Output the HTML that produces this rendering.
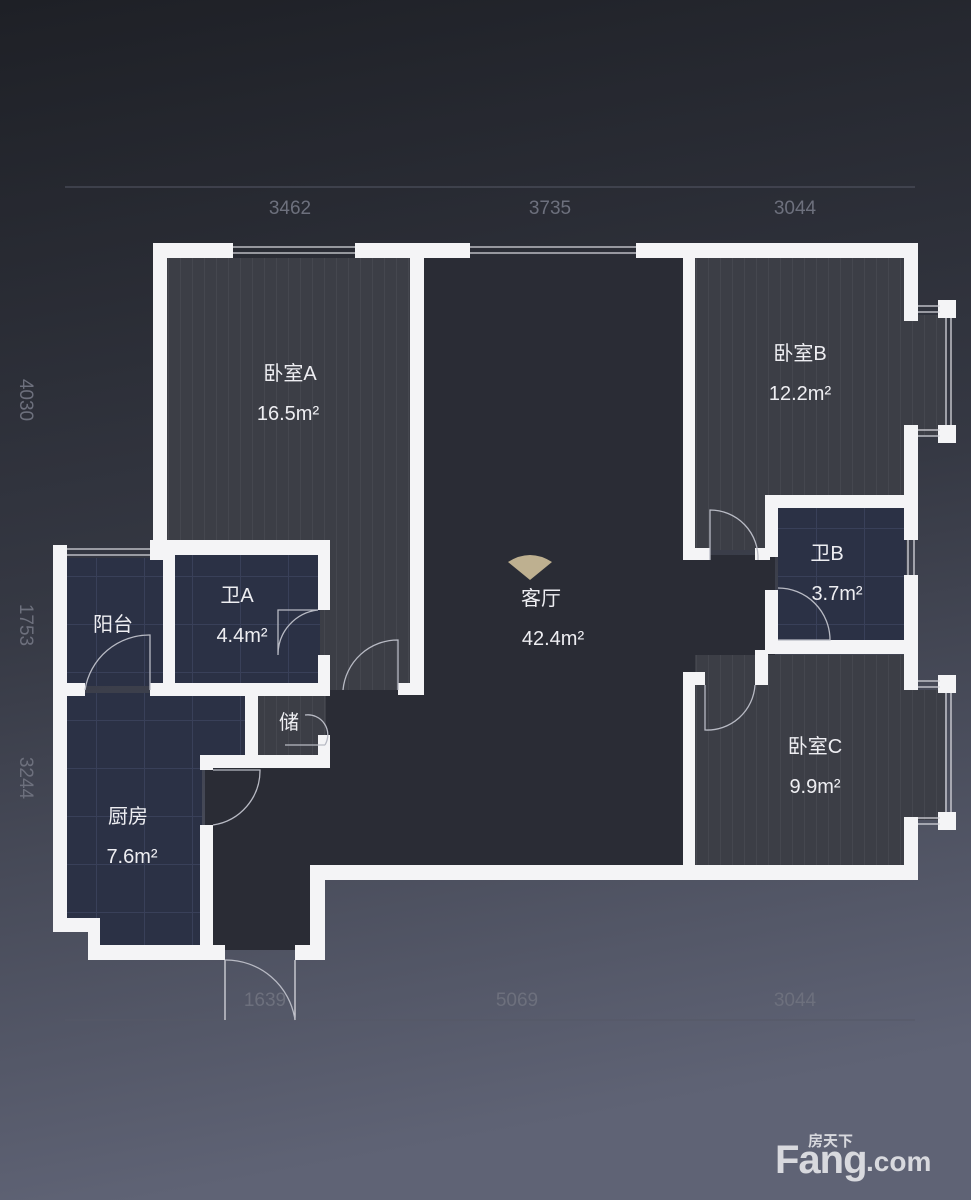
<!DOCTYPE html>
<html><head><meta charset="utf-8"><style>
html,body{margin:0;padding:0;}
body{width:971px;height:1200px;overflow:hidden;}
svg{display:block}
text{font-family:"Liberation Sans","Noto Sans CJK SC",sans-serif;}
</style></head><body>
<svg width="971" height="1200" viewBox="0 0 971 1200" xmlns="http://www.w3.org/2000/svg">
<defs>
<linearGradient id="bg" x1="0" y1="0" x2="0.15" y2="1">
<stop offset="0" stop-color="#1e2026"/><stop offset="0.5" stop-color="#353843"/><stop offset="1" stop-color="#5f6375"/>
</linearGradient>
<pattern id="wood" width="12" height="12" patternUnits="userSpaceOnUse">
<rect width="12" height="12" fill="#3c3e46"/><line x1="0.5" y1="0" x2="0.5" y2="12" stroke="#45474f" stroke-width="1"/>
</pattern>
<pattern id="tile" width="48" height="48" patternUnits="userSpaceOnUse">
<rect width="48" height="48" fill="#2b3145"/><path d="M0 .5H48M.5 0V48" stroke="#394059" stroke-width="1"/>
</pattern>
</defs>
<rect width="971" height="1200" fill="url(#bg)"/>
<g stroke="#555866" stroke-width="1">
<line x1="65" y1="187" x2="915" y2="187"/><line x1="65" y1="1020" x2="915" y2="1020"/>
</g>
<g fill="#6d707d" font-size="19" text-anchor="middle">
<text x="290" y="214">3462</text><text x="550" y="214">3735</text><text x="795" y="214">3044</text>
<text x="265" y="1006">1639</text><text x="517" y="1006">5069</text><text x="795" y="1006">3044</text>
<text transform="translate(20,400) rotate(90)">4030</text>
<text transform="translate(20,625) rotate(90)">1753</text>
<text transform="translate(20,778) rotate(90)">3244</text>
</g>
<rect x="167" y="258" width="245" height="432" fill="url(#wood)"/>
<rect x="412" y="255" width="273" height="612" fill="#2a2c35"/>
<rect x="685" y="555" width="90" height="117" fill="#2a2c35"/>
<rect x="310" y="690" width="120" height="180" fill="#2a2c35"/>
<rect x="205" y="755" width="120" height="195" fill="#2a2c35"/>
<rect x="695" y="258" width="212" height="292" fill="url(#wood)"/>
<rect x="905" y="315" width="40" height="120" fill="url(#wood)"/>
<rect x="695" y="655" width="212" height="212" fill="url(#wood)"/>
<rect x="905" y="690" width="40" height="130" fill="url(#wood)"/>
<rect x="778" y="505" width="128" height="137" fill="url(#tile)"/>
<rect x="175" y="555" width="145" height="130" fill="url(#tile)"/>
<rect x="67" y="558" width="98" height="128" fill="url(#tile)"/>
<rect x="67" y="693" width="180" height="64" fill="url(#tile)"/>
<rect x="67" y="693" width="135" height="227" fill="url(#tile)"/>
<rect x="100" y="693" width="102" height="255" fill="url(#tile)"/>
<rect x="256" y="695" width="70" height="62" fill="url(#wood)"/>
<g fill="#f4f4f6">
<rect x="153" y="243" width="80" height="15"/><rect x="355" y="243" width="115" height="15"/><rect x="636" y="243" width="282" height="15"/>
<rect x="153" y="243" width="14" height="302"/>
<rect x="410" y="255" width="14" height="435"/>
<rect x="683" y="255" width="12" height="305"/>
<rect x="683" y="548" width="27" height="12"/><rect x="755" y="548" width="15" height="12"/>
<rect x="904" y="243" width="14" height="78"/><rect x="904" y="425" width="14" height="82"/>
<rect x="765" y="495" width="153" height="13"/><rect x="765" y="495" width="13" height="62"/>
<rect x="765" y="590" width="13" height="60"/>
<rect x="765" y="640" width="153" height="14"/>
<rect x="904" y="495" width="14" height="45"/><rect x="904" y="575" width="14" height="115"/>
<rect x="683" y="672" width="22" height="13"/><rect x="755" y="650" width="13" height="35"/>
<rect x="683" y="672" width="12" height="198"/>
<rect x="904" y="817" width="14" height="63"/>
<rect x="310" y="865" width="608" height="15"/>
<rect x="310" y="865" width="15" height="95"/>
<rect x="295" y="945" width="30" height="15"/><rect x="88" y="945" width="137" height="15"/>
<rect x="88" y="918" width="12" height="42"/><rect x="53" y="918" width="47" height="14"/>
<rect x="53" y="545" width="14" height="387"/>
<rect x="53" y="545" width="14" height="14"/><rect x="150" y="540" width="180" height="15"/>
<rect x="150" y="540" width="15" height="20"/>
<rect x="163" y="540" width="12" height="150"/>
<rect x="318" y="540" width="12" height="70"/><rect x="318" y="655" width="12" height="40"/>
<rect x="53" y="683" width="32" height="13"/><rect x="150" y="683" width="180" height="13"/>
<rect x="398" y="683" width="26" height="12"/>
<rect x="245" y="690" width="13" height="67"/>
<rect x="200" y="755" width="130" height="13"/><rect x="318" y="735" width="12" height="33"/>
<rect x="200" y="755" width="13" height="15"/><rect x="200" y="825" width="13" height="125"/>
<rect x="938" y="300" width="18" height="18"/><rect x="938" y="425" width="18" height="18"/>
<rect x="938" y="675" width="18" height="18"/><rect x="938" y="812" width="18" height="18"/>
</g>
<g stroke="#d8d8de" stroke-width="1.3" fill="none">
<path d="M233 247H355M233 253H355M470 247H636M470 253H636"/>
<path d="M918 306H940M918 312H940M946 318V425M951 318V425M918 430H940M918 436H940"/>
<path d="M918 681H940M918 687H940M946 693V812M951 693V812M918 818H940M918 824H940"/>
<path d="M908 540V575M914 540V575"/>
<path d="M67 549H150M67 555H150"/>
<path d="M225 960V1020M295 960V1020"/>
</g>
<g stroke="#b8bac4" stroke-width="1.3" fill="none">
<path d="M150 690V635A65 65 0 0 0 85 690"/>
<path d="M318 610H278V655A45 45 0 0 1 318 610"/>
<path d="M398 690V640A55 55 0 0 0 343 690"/>
<path d="M325 745H285M325 745A20 20 0 0 0 305 715"/>
<path d="M213 770H260A55 55 0 0 1 213 825"/>
<path d="M710 560V510A48 48 0 0 1 758 560"/>
<path d="M778 640H830A52 52 0 0 0 778 588"/>
<path d="M705 685V730A48 48 0 0 0 755 685"/>
<path d="M225 960A70 70 0 0 1 295 1020"/>
</g>
<path d="M530 580L508 562Q530 548 552 562Z" fill="#d8c8a0" opacity="0.85"/>
<g fill="#eeeef2" font-size="20" text-anchor="middle">
<text x="290" y="380">卧室A</text><text x="288" y="420">16.5m²</text>
<text x="800" y="360">卧室B</text><text x="800" y="400">12.2m²</text>
<text x="541" y="605">客厅</text><text x="553" y="645">42.4m²</text>
<text x="237" y="602">卫A</text><text x="242" y="642">4.4m²</text>
<text x="113" y="631">阳台</text>
<text x="827" y="560">卫B</text><text x="837" y="600">3.7m²</text>
<text x="289" y="729">储</text>
<text x="815" y="753">卧室C</text><text x="815" y="793">9.9m²</text>
<text x="128" y="823">厨房</text><text x="132" y="863">7.6m²</text>
</g>
<text x="808" y="1146" font-size="15" font-weight="bold" fill="#d8d9de">房天下</text>
<text x="775" y="1173" font-size="40" font-weight="bold" fill="#d8d9de" letter-spacing="-1">Fang</text>
<text x="866" y="1171" font-size="28" font-weight="bold" fill="#d8d9de">.com</text>
</svg>
</body></html>
